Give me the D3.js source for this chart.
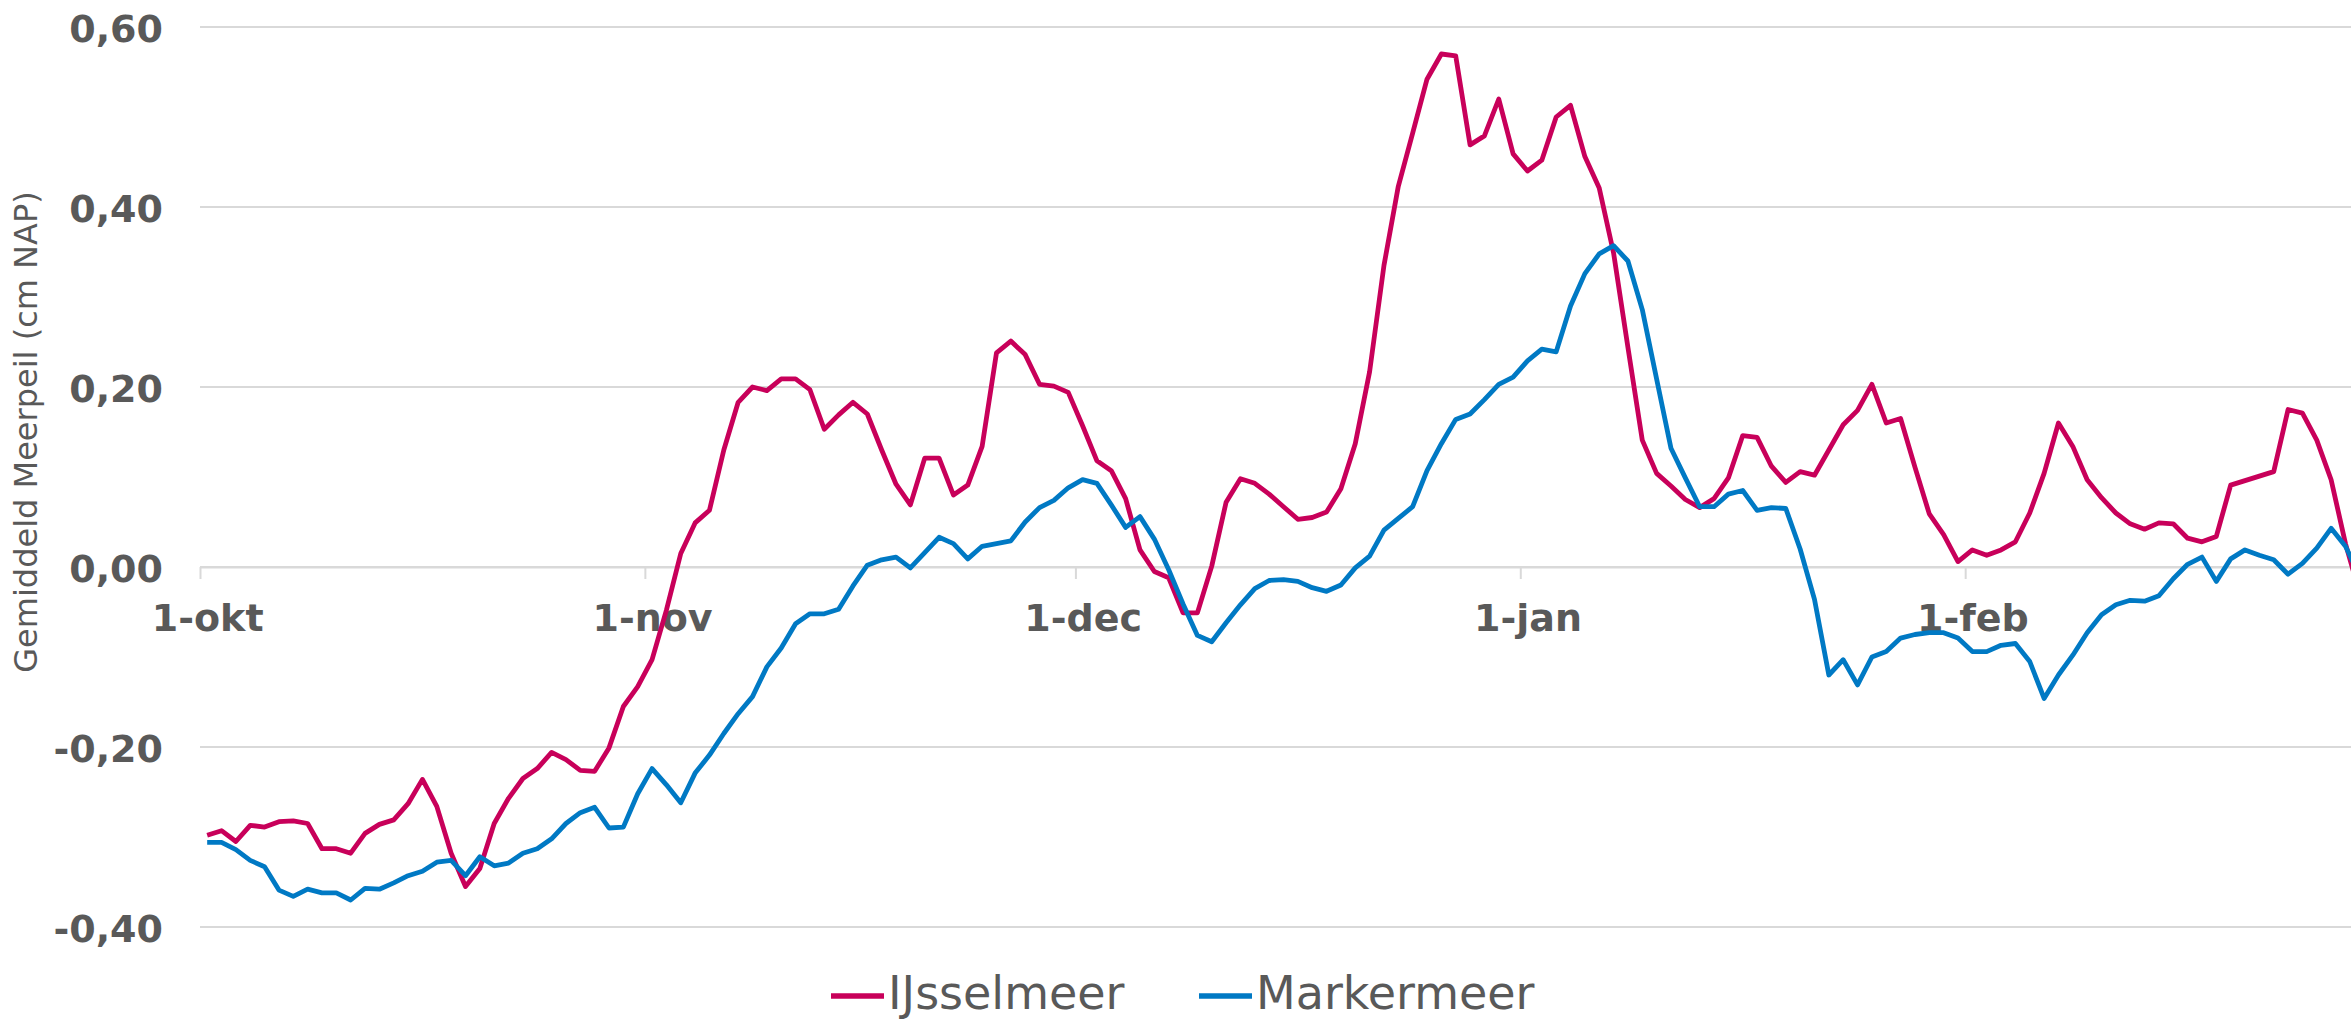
<!DOCTYPE html>
<html>
<head>
<meta charset="utf-8">
<script src="https://cdn.jsdelivr.net/npm/d3@7"></script>
<style>
  body { margin: 0; background: #ffffff; }
  #chart svg { display: block; }
  .axis text { font-family: "DejaVu Sans", Verdana, sans-serif; font-weight: bold; font-size: 38px; fill: #595959; }
</style>
</head>
<body>
<div id="chart"></div>
<script>
// daily mean lake level, 1 okt .. end of feb (cm NAP as labelled)
var startDay = new Date(Date.UTC(2022, 9, 1));
var endDay = new Date(Date.UTC(2023, 2, 1));

var seriesNames = ["IJsselmeer", "Markermeer"];
var seriesColors = ["#c8005a", "#0079c4"];

var ijsselmeer = [
  -0.298, -0.293, -0.305, -0.287, -0.289, -0.283, -0.282, -0.285, -0.313, -0.313,
  -0.318, -0.296, -0.286, -0.281, -0.263, -0.236, -0.266, -0.318, -0.355, -0.335,
  -0.285, -0.257, -0.235, -0.224, -0.206, -0.214, -0.226, -0.227, -0.201, -0.155,
  -0.133, -0.103, -0.048, 0.015, 0.049, 0.063, 0.130, 0.183, 0.200, 0.196,
  0.209, 0.209, 0.197, 0.153, 0.169, 0.183, 0.170, 0.130, 0.092, 0.069,
  0.121, 0.121, 0.080, 0.091, 0.134, 0.238, 0.251, 0.236, 0.203, 0.201,
  0.194, 0.157, 0.118, 0.107, 0.076, 0.019, -0.005, -0.012, -0.051, -0.051,
  0.001, 0.072, 0.098, 0.093, 0.081, 0.067, 0.053, 0.055, 0.061, 0.087,
  0.137, 0.217, 0.335, 0.423, 0.482, 0.542, 0.570, 0.568, 0.469, 0.479,
  0.520, 0.459, 0.440, 0.452, 0.500, 0.513, 0.456, 0.421, 0.349, 0.244,
  0.141, 0.104, 0.090, 0.075, 0.066, 0.076, 0.099, 0.146, 0.144, 0.112,
  0.094, 0.106, 0.102, 0.130, 0.158, 0.174, 0.203, 0.160, 0.165, 0.111,
  0.059, 0.036, 0.006, 0.019, 0.013, 0.019, 0.028, 0.060, 0.104, 0.160,
  0.134, 0.097, 0.077, 0.060, 0.048, 0.042, 0.049, 0.048, 0.032, 0.028,
  0.034, 0.091, 0.096, 0.101, 0.106, 0.175, 0.171, 0.141, 0.097, 0.026,
  -0.030
];

var markermeer = [
  -0.306, -0.306, -0.314, -0.326, -0.333, -0.359, -0.366, -0.358, -0.362, -0.362,
  -0.370, -0.357, -0.358, -0.351, -0.343, -0.338, -0.328, -0.326, -0.343, -0.322,
  -0.332, -0.329, -0.318, -0.313, -0.302, -0.285, -0.273, -0.267, -0.290, -0.289,
  -0.252, -0.224, -0.242, -0.262, -0.229, -0.209, -0.185, -0.163, -0.144, -0.111,
  -0.090, -0.063, -0.052, -0.052, -0.047, -0.021, 0.002, 0.008, 0.011, -0.001,
  0.016, 0.033, 0.026, 0.009, 0.023, 0.026, 0.029, 0.050, 0.066, 0.074,
  0.088, 0.097, 0.093, 0.069, 0.044, 0.056, 0.031, -0.003, -0.041, -0.076,
  -0.083, -0.062, -0.042, -0.024, -0.015, -0.014, -0.016, -0.023, -0.027, -0.020,
  -0.001, 0.012, 0.041, 0.054, 0.067, 0.107, 0.137, 0.164, 0.170, 0.186,
  0.203, 0.211, 0.229, 0.242, 0.239, 0.290, 0.326, 0.348, 0.357, 0.340,
  0.286, 0.209, 0.132, 0.099, 0.067, 0.067, 0.081, 0.085, 0.063, 0.066,
  0.065, 0.020, -0.036, -0.120, -0.103, -0.131, -0.100, -0.094, -0.079, -0.075,
  -0.073, -0.073, -0.079, -0.094, -0.094, -0.087, -0.085, -0.105, -0.146, -0.120,
  -0.098, -0.073, -0.053, -0.042, -0.037, -0.038, -0.032, -0.013, 0.003, 0.011,
  -0.016, 0.009, 0.019, 0.013, 0.008, -0.008, 0.004, 0.021, 0.043, 0.023,
  -0.010
];

var yTicks = [-0.4, -0.2, 0, 0.2, 0.4, 0.6];
var monthStarts = [
  new Date(Date.UTC(2022, 9, 1)),
  new Date(Date.UTC(2022, 10, 1)),
  new Date(Date.UTC(2022, 11, 1)),
  new Date(Date.UTC(2023, 0, 1)),
  new Date(Date.UTC(2023, 1, 1))
];
var monthLabels = ["1-okt", "1-nov", "1-dec", "1-jan", "1-feb"];
var yTitle = "Gemiddeld Meerpeil (cm NAP)";

function chart() {
    var margin = {top: 27, left: 200},
        totalWidth = 2351,
        totalHeight = 1021,
        width = 2167,
        height = 900;

    var root = d3.select("#chart").append("svg")
        .attr("width", totalWidth)
        .attr("height", totalHeight);

    var svg = root.append("g")
        .attr("transform", "translate(" + margin.left + "," + margin.top + ")");

    var x = d3.scaleUtc().domain([startDay, endDay]).range([0, width]);
    var y = d3.scaleLinear().domain([-0.4, 0.6]).range([height, 0]);

    // dates as middle of the day, like a date axis in excel
    function dayMid(i) { return d3.utcHour.offset(d3.utcDay.offset(startDay, i), 12); }
    var halfDay = x(dayMid(0)) - x(startDay);

    // grid
    svg.append("g")
      .selectAll("line")
      .data(yTicks)
      .enter()
      .append("line")
        .attr("x1", 0)
        .attr("x2", width)
        .attr("y1", function(d) { return y(d); })
        .attr("y2", function(d) { return y(d); })
        .style("stroke", "#d9d9d9")
        .style("stroke-width", 2);

    var nl = d3.formatLocale({decimal: ",", thousands: ".", grouping: [3], currency: ["€", ""], minus: "-"});
    var fmt = nl.format(".2f");

    var yAxis = d3.axisLeft(y).tickValues(yTicks).tickSize(0).tickPadding(37).tickFormat(fmt);
    var gy = svg.append("g").attr("class", "axis").call(yAxis);
    gy.select(".domain").remove();
    gy.selectAll("text").attr("dy", "0.38em");

    var xAxis = d3.axisBottom(x)
        .tickValues(monthStarts)
        .tickSize(12)
        .tickSizeOuter(0)
        .tickPadding(25)
        .tickFormat(function(d, i) { return monthLabels[i]; });
    var gx = svg.append("g")
        .attr("class", "axis")
        .attr("transform", "translate(0," + y(0) + ")")
        .call(xAxis);
    gx.select(".domain").style("stroke", "#d9d9d9").style("stroke-width", 2);
    gx.selectAll(".tick line").style("stroke", "#d9d9d9").style("stroke-width", 2);
    gx.selectAll(".tick text").attr("x", halfDay);

    var line = d3.line()
        .x(function(d, i) { return x(dayMid(i)); })
        .y(function(d) { return y(d); });

    [ijsselmeer, markermeer].forEach(function(vals, k) {
        svg.append("path")
            .datum(vals)
            .attr("d", line)
            .style("fill", "none")
            .style("stroke", seriesColors[k])
            .style("stroke-width", 4.8)
            .style("stroke-linejoin", "round");
    });

    root.append("text")
        .attr("transform", "translate(37,432) rotate(-90)")
        .attr("text-anchor", "middle")
        .style("font-family", "'DejaVu Sans', Verdana, sans-serif")
        .style("font-size", "32px")
        .style("fill", "#595959")
        .text(yTitle);

    // legend, kept just inside the bottom edge
    var legendX = [831, 1199];
    var legend = root.append("g").attr("transform", "translate(0,996)");
    seriesNames.forEach(function(name, k) {
        legend.append("line")
            .attr("x1", legendX[k]).attr("x2", legendX[k] + 53)
            .attr("y1", 0).attr("y2", 0)
            .style("stroke", seriesColors[k])
            .style("stroke-width", 5.5);
        legend.append("text")
            .attr("x", legendX[k] + 57)
            .attr("y", 13)
            .style("font-family", "'DejaVu Sans', Verdana, sans-serif")
            .style("font-size", "46px")
            .style("fill", "#595959")
            .text(name);
    });

    return svg;
}

chart();
</script>
</body>
</html>
